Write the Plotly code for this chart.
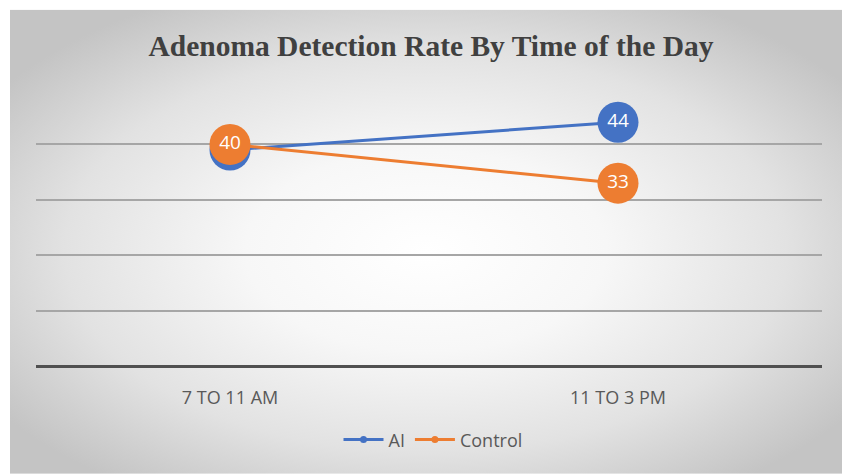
import base64
import plotly.graph_objects as go

categories = ["7 TO 11 AM", "11 TO 3 PM"]
ai_values = [39, 44]
control_values = [40, 33]
grid_values = [0, 10, 20, 30, 40]

BLUE = "#4472C4"
ORANGE = "#ED7D31"

W, H = 842, 474
L, R = 36, 822          # plot area x in px
T, B = 88.5, 366        # plot area y in px
STEP = 388              # px between category centres

svg = (
    '<svg xmlns="http://www.w3.org/2000/svg" width="400" height="400" viewBox="0 0 400 400" preserveAspectRatio="none">'
    '<defs><radialGradient id="g" cx="50%" cy="52%" r="62%">'
    '<stop offset="0%" stop-color="#ffffff"/>'
    '<stop offset="35%" stop-color="#f7f7f7"/>'
    '<stop offset="70%" stop-color="#e2e2e2"/>'
    '<stop offset="100%" stop-color="#c4c4c4"/>'
    '</radialGradient></defs>'
    '<rect x="0" y="0" width="400" height="400" fill="url(#g)"/></svg>'
)
src = "data:image/svg+xml;base64," + base64.b64encode(svg.encode()).decode()

pw, ph = R - L, B - T
fx0 = (10 - L) / pw
fx1 = (W - L) / pw
fy1 = (B - 9) / ph
fy0 = (B - H) / ph

fig = go.Figure()
fig.add_trace(go.Scatter(
    x=categories, y=ai_values, mode="lines+markers+text", name="AI",
    line=dict(color=BLUE, width=3), marker=dict(size=41, color=BLUE),
    text=[str(v) for v in ai_values], textposition="middle center",
    textfont=dict(color="white", size=19, family="Open Sans"), showlegend=False,
    cliponaxis=False,
))
fig.add_trace(go.Scatter(
    x=categories, y=control_values, mode="lines+markers+text", name="Control",
    line=dict(color=ORANGE, width=3), marker=dict(size=41, color=ORANGE),
    text=[str(v) for v in control_values], textposition="middle center",
    textfont=dict(color="white", size=19, family="Open Sans"), showlegend=False,
    cliponaxis=False,
))
# legend entries with small markers
fig.add_trace(go.Scatter(x=[None], y=[None], mode="lines+markers", name="AI",
                         line=dict(color=BLUE, width=3), marker=dict(size=7, color=BLUE)))
fig.add_trace(go.Scatter(x=[None], y=[None], mode="lines+markers", name="Control",
                         line=dict(color=ORANGE, width=3), marker=dict(size=7, color=ORANGE)))

x_lo = -(230 - L) / STEP
x_hi = x_lo + pw / STEP

fig.update_layout(
    width=W, height=H,
    margin=dict(l=L, r=W - R, t=T, b=H - B),
    paper_bgcolor="white", plot_bgcolor="rgba(0,0,0,0)",
    title=dict(text="<b>Adenoma Detection Rate By Time of the Day</b>",
               x=(431 - L) / pw, xref="paper", y=1 - 46 / H, yanchor="middle",
               font=dict(family="Liberation Serif", size=29.5, color="#404040")),
    images=[dict(source=src, xref="paper", yref="paper", x=fx0, y=fy1,
                 sizex=fx1 - fx0, sizey=fy1 - fy0, sizing="stretch",
                 xanchor="left", yanchor="top", layer="below")],
    xaxis=dict(type="category", range=[x_lo, x_hi], showgrid=False, showline=False,
               ticks="", tickfont=dict(family="Open Sans", size=18, color="#595959"),
               ticklabelstandoff=19, zeroline=False),
    yaxis=dict(range=[0, 50], tickvals=grid_values, showticklabels=False,
               showgrid=True, gridcolor="#a6a6a6", gridwidth=2,
               zeroline=True, zerolinecolor="#505050", zerolinewidth=3,
               showline=False),
    legend=dict(orientation="h", x=(433 - L) / pw, xanchor="center", xref="paper",
                y=(B - 440) / ph, yanchor="middle",
                font=dict(family="Open Sans", size=18, color="#595959"),
                bgcolor="rgba(0,0,0,0)", itemwidth=40),
    showlegend=True,
)

fig.write_html("out.html", config={"displayModeBar": False},
               post_script="document.body.style.margin='0';")
